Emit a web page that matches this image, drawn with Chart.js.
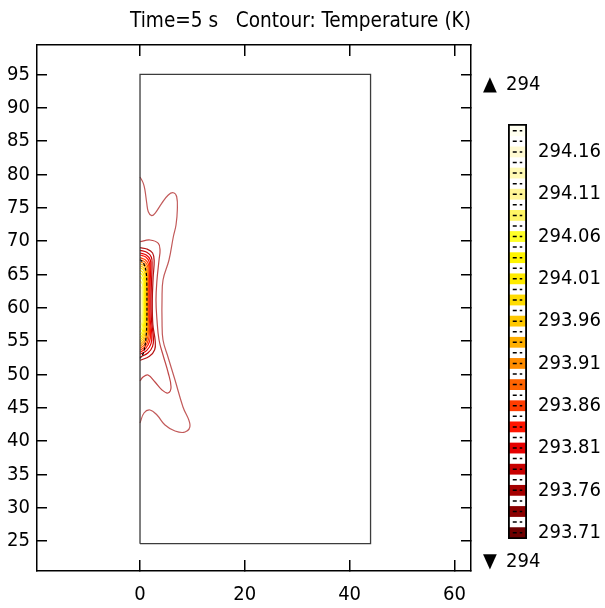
<!DOCTYPE html>
<html>
<head>
<meta charset="utf-8">
<script src="https://cdn.jsdelivr.net/npm/chart.js@4.4.1/dist/chart.umd.min.js"></script>
<style>
  html, body { margin: 0; padding: 0; background: #fff; }
  #wrap { position: relative; width: 605px; height: 608px; }
  #plot { position: absolute; left: 0; top: 0; }
  #legend { position: absolute; left: 480px; top: 0; }
  .mark { position: absolute; font-family: "DejaVu Sans Condensed", "DejaVu Sans", sans-serif; font-size: 20px; line-height: 20px; color: #000; white-space: pre; }
</style>
</head>
<body>
<div id="wrap">
  <canvas id="plot" width="605" height="608"></canvas>
  <canvas id="legend" width="125" height="608"></canvas>
  <div class="mark" style="left:483px; top:73px;">▲</div>
  <div class="mark" style="left:506px; top:73px;">294</div>
  <div class="mark" style="left:483px; top:550px;">▼</div>
  <div class="mark" style="left:506px; top:550px;">294</div>
</div>
<script>
const FONT = '"DejaVu Sans Condensed", "DejaVu Sans", sans-serif';
Chart.defaults.font.family = FONT;
Chart.defaults.color = '#000';

// axes
const X_TICKS = [0, 20, 40, 60];
const Y_TICKS = [25, 30, 35, 40, 45, 50, 55, 60, 65, 70, 75, 80, 85, 90, 95];
const X_RANGE = [-19.66, 63.17];
const Y_RANGE = [20.5, 99.4];

// geometry outline (domain boundary)
const domain = [[0, 24.6], [44, 24.6], [44, 95], [0, 95], [0, 24.6]];

// contour lines, outermost first (x, y)
const contour1 = [[0, 79.6], [0.63, 78.65], [0.95, 77.6], [1.28, 75.7], [1.58, 74.4], [2.23, 73.8], [2.86, 74.15],
  [4.14, 75.65], [5.4, 76.9], [6.36, 77.24], [7.0, 76.64], [7.12, 74.65], [6.87, 72.4], [6.36, 70.64], [5.53, 67.15],
  [4.39, 64.15], [4.2, 61.15], [4.2, 58.15], [4.39, 55.15], [5.34, 52.6], [6.68, 49.15], [8.2, 45.1], [9.54, 42.4],
  [8.59, 41.35], [6.68, 41.5], [4.77, 42.4], [3.24, 43.9], [1.9, 44.65], [0.76, 44.2], [0, 42.7]];
const contour2 = [[0, 69.9], [1.9, 70.15], [3.5, 69.65], [3.82, 68.6], [3.63, 67.15], [3.24, 64.15], [3.05, 61.15],
  [3.24, 58.15], [3.63, 55.15], [4.39, 52.9], [5.34, 50.35], [5.92, 48.1], [5.34, 47.2], [4.2, 47.65], [2.86, 48.85],
  [1.53, 49.9], [0.57, 49.6], [0, 49.0]];
const contour3 = [[0, 69.0], [1.3, 68.8], [2.4, 68.2], [2.7, 67.0], [2.5, 64.5], [2.35, 61], [2.45, 57.5], [2.9, 55.0], [2.8, 53.7], [1.8, 52.7], [0, 52.1]];
const contour4 = [[0, 68.6], [1.3, 68.3], [2.15, 67.6], [2.3, 66.5], [2.2, 64], [2.1, 61], [2.2, 58], [2.55, 55.5], [2.4, 54.2], [1.5, 53.2], [0, 52.6]];
const contour5 = [[0, 68.2], [1.2, 67.9], [1.95, 67.2], [2.05, 66.2], [1.95, 64], [1.9, 61], [1.95, 58.2], [2.25, 56], [2.1, 54.6], [1.3, 53.6], [0, 53.0]];
const contour6 = [[0, 67.9], [1.1, 67.6], [1.75, 66.9], [1.85, 66], [1.78, 64], [1.73, 61], [1.77, 58.4], [2.0, 56.3], [1.85, 55], [1.1, 53.9], [0, 53.3]];
const contour7 = [[0, 67.5], [1.0, 67.2], [1.58, 66.6], [1.68, 65.7], [1.63, 63.8], [1.58, 61], [1.62, 58.6], [1.8, 56.6], [1.65, 55.3], [1.0, 54.2], [0, 53.6]];
const contour8 = [[0, 67.2], [0.9, 66.9], [1.42, 66.3], [1.52, 65.4], [1.48, 63.6], [1.45, 61], [1.48, 58.8], [1.62, 56.9], [1.48, 55.6], [0.9, 54.5], [0, 53.9]];
const contour9 = [[0, 66.9], [0.8, 66.6], [1.28, 66.0], [1.38, 65.1], [1.35, 63.4], [1.33, 61], [1.35, 59], [1.46, 57.2], [1.33, 55.9], [0.8, 54.8], [0, 54.2]];
const contour10 = [[0, 66.6], [0.72, 66.3], [1.15, 65.7], [1.25, 64.8], [1.22, 63.2], [1.21, 61], [1.22, 59.2], [1.31, 57.5], [1.19, 56.2], [0.72, 55.1], [0, 54.5]];
const contour11 = [[0, 66.3], [0.65, 66.0], [1.03, 65.4], [1.12, 64.5], [1.1, 63], [1.09, 61], [1.1, 59.4], [1.17, 57.8], [1.06, 56.5], [0.64, 55.4], [0, 54.8]];
const contour12 = [[0, 66.0], [0.58, 65.7], [0.93, 65.1], [1.0, 64.2], [0.98, 62.8], [0.97, 61], [0.98, 59.6], [1.04, 58.1], [0.94, 56.8], [0.56, 55.7], [0, 55.1]];
const contour13 = [[0, 65.6], [0.5, 65.3], [0.82, 64.7], [0.88, 63.9], [0.86, 62.6], [0.85, 61], [0.86, 59.8], [0.91, 58.4], [0.82, 57.1], [0.49, 56.0], [0, 55.5]];
const contour14 = [[0, 65.2], [0.43, 64.9], [0.71, 64.3], [0.76, 63.6], [0.74, 62.4], [0.73, 61], [0.74, 60], [0.78, 58.7], [0.7, 57.5], [0.42, 56.4], [0, 55.9]];
const contour15 = [[0, 64.7], [0.36, 64.4], [0.6, 63.9], [0.64, 63.2], [0.62, 62.2], [0.61, 61], [0.62, 60.1], [0.65, 59], [0.58, 57.9], [0.35, 56.9], [0, 56.4]];
const contour16 = [[0, 64.1], [0.29, 63.8], [0.48, 63.4], [0.52, 62.8], [0.5, 62], [0.49, 61], [0.5, 60.3], [0.52, 59.4], [0.46, 58.4], [0.28, 57.5], [0, 57.0]];
const contour17 = [[0, 63.4], [0.22, 63.1], [0.36, 62.8], [0.39, 62.3], [0.37, 61.7], [0.37, 61], [0.37, 60.5], [0.39, 59.8], [0.34, 59.0], [0.21, 58.2], [0, 57.8]];
const contour18 = [[0, 62.6], [0.15, 62.4], [0.24, 62.1], [0.26, 61.7], [0.25, 61.2], [0.25, 60.8], [0.26, 60.2], [0.22, 59.6], [0.14, 59.0], [0, 58.7]];
const blackContour = [[0, 67.2], [0.65, 66.7], [1.15, 65.4], [1.3, 63.5], [1.32, 61], [1.3, 58], [1.15, 55.6], [0.65, 53.2], [0, 52.4]];

const contours = [contour1, contour2, contour3, contour4, contour5, contour6, contour7, contour8, contour9,
  contour10, contour11, contour12, contour13, contour14, contour15, contour16, contour17, contour18];
const lineColors = ['#c25a5a', '#c04848', '#b41414', '#c80000', '#e60000', '#ff1400', '#ff3c00', '#ff6400', '#ff8c00',
  '#ffaf00', '#ffc800', '#ffdc00', '#ffeb00', '#fff500', '#ffff28', '#fff564', '#fff596', '#fffab4'];

// color legend
const levels = [293.71, 293.735, 293.76, 293.785, 293.81, 293.835, 293.86, 293.885, 293.91, 293.935,
  293.96, 293.985, 294.01, 294.035, 294.06, 294.085, 294.11, 294.135, 294.16, 294.185];
const levelColors = ['#6e0000', '#8c0000', '#a50000', '#c80000', '#e60000', '#ff1400', '#ff3c00', '#ff6400', '#ff8c00', '#ffaf00',
  '#ffc800', '#ffdc00', '#ffeb00', '#fff500', '#ffff28', '#fff564', '#fff596', '#fffab4', '#fffad2', '#fffff0'];
const dashLevels = [293.71, 293.7225, 293.735, 293.7475, 293.76, 293.7725, 293.785, 293.7975, 293.81, 293.8225,
  293.835, 293.8475, 293.86, 293.8725, 293.885, 293.8975, 293.91, 293.9225, 293.935, 293.9475, 293.96, 293.9725,
  293.985, 293.9975, 294.01, 294.0225, 294.035, 294.0475, 294.06, 294.0725, 294.085, 294.0975, 294.11, 294.1225,
  294.135, 294.1475, 294.16, 294.1725, 294.185];
const legendTicks = [293.71, 293.76, 293.81, 293.86, 293.91, 293.96, 294.01, 294.06, 294.11, 294.16];
const LEGEND_RANGE = [293.7025, 294.193];

const pts = arr => arr.map(p => ({ x: p[0], y: p[1] }));
const tickFont = { family: FONT, size: 20 };

const datasets = [
  { data: pts(domain), borderColor: '#3c3c3c', borderWidth: 1.3, tension: 0 },
  { data: pts(blackContour), borderColor: '#000', borderWidth: 1.2, borderDash: [3, 2], tension: 0.4 }
];
for (let i = contours.length - 1; i >= 0; i--) {
  datasets.push({ data: pts(contours[i]), borderColor: lineColors[i], borderWidth: 1.2, tension: 0.4 });
}
datasets.forEach(d => { d.showLine = true; d.pointRadius = 0; d.fill = false; });

const axisGrid = len => ({ drawOnChartArea: false, tickLength: len, color: '#000', lineWidth: 1.5 });
const axisBorder = { color: '#000', width: 1.5 };

new Chart(document.getElementById('plot'), {
  type: 'scatter',
  data: { datasets },
  options: {
    responsive: false,
    animation: false,
    layout: { padding: { left: 0, right: 134, top: 0, bottom: 0 } },
    plugins: {
      legend: { display: false },
      tooltip: { enabled: false },
      title: {
        display: true,
        align: 'end',
        text: 'Time=5 s   Contour: Temperature (K)',
        color: '#000',
        font: { family: FONT, size: 20.6, weight: 'normal' },
        padding: { top: 9, bottom: 11.3 }
      }
    },
    scales: {
      x: {
        position: 'bottom', min: X_RANGE[0], max: X_RANGE[1],
        afterBuildTicks: ax => { ax.ticks = X_TICKS.map(v => ({ value: v })); },
        afterFit: ax => { ax.height = 37; },
        grid: axisGrid(-11), border: axisBorder,
        ticks: { font: tickFont, color: '#000', padding: 23, maxRotation: 0, autoSkip: false }
      },
      x2: {
        type: 'linear', position: 'top', min: X_RANGE[0], max: X_RANGE[1],
        afterBuildTicks: ax => { ax.ticks = X_TICKS.map(v => ({ value: v })); },
        afterFit: ax => { ax.height = 0; },
        grid: axisGrid(-11), border: axisBorder,
        ticks: { display: false }
      },
      y: {
        position: 'left', min: Y_RANGE[0], max: Y_RANGE[1],
        afterBuildTicks: ax => { ax.ticks = Y_TICKS.map(v => ({ value: v })); },
        afterFit: ax => { ax.width = 37; },
        grid: axisGrid(-10), border: axisBorder,
        ticks: { font: tickFont, color: '#000', padding: 17, autoSkip: false }
      },
      y2: {
        type: 'linear', position: 'right', min: Y_RANGE[0], max: Y_RANGE[1],
        afterBuildTicks: ax => { ax.ticks = Y_TICKS.map(v => ({ value: v })); },
        afterFit: ax => { ax.width = 0; },
        grid: axisGrid(-10), border: axisBorder,
        ticks: { display: false }
      }
    }
  }
});

const legendSets = [
  { data: [LEGEND_RANGE], backgroundColor: 'rgba(0,0,0,0)', borderColor: '#000', borderWidth: 1.5,
    borderSkipped: false, grouped: false, order: -1, barPercentage: 1, categoryPercentage: 1 }
];
dashLevels.forEach(v => legendSets.push({
  type: 'line', xAxisID: 'xd', data: [{ x: 0, y: v }, { x: 1, y: v }], borderColor: '#000',
  borderWidth: 1.5, borderDash: [4, 3], pointRadius: 0, order: -0.5
}));
levels.forEach((v, i) => legendSets.push({
  data: [[v - 0.006, v + 0.006]], backgroundColor: levelColors[i], borderWidth: 0,
  grouped: false, barPercentage: 1, categoryPercentage: 1
}));

new Chart(document.getElementById('legend'), {
  type: 'bar',
  data: { labels: [''], datasets: legendSets },
  options: {
    responsive: false,
    animation: false,
    layout: { padding: { left: 28, right: 0, top: 124, bottom: 69 } },
    plugins: { legend: { display: false }, tooltip: { enabled: false } },
    scales: {
      x: { display: false },
      xd: { type: 'linear', display: false, min: 0, max: 1 },
      y: {
        position: 'right', min: LEGEND_RANGE[0], max: LEGEND_RANGE[1],
        afterBuildTicks: ax => { ax.ticks = legendTicks.map(v => ({ value: v })); },
        afterFit: ax => { ax.width = 78; },
        grid: { display: false, drawTicks: false },
        border: { display: false },
        ticks: { font: tickFont, color: '#000', padding: 11, callback: v => v.toFixed(2) }
      }
    }
  }
});
</script>
</body>
</html>
